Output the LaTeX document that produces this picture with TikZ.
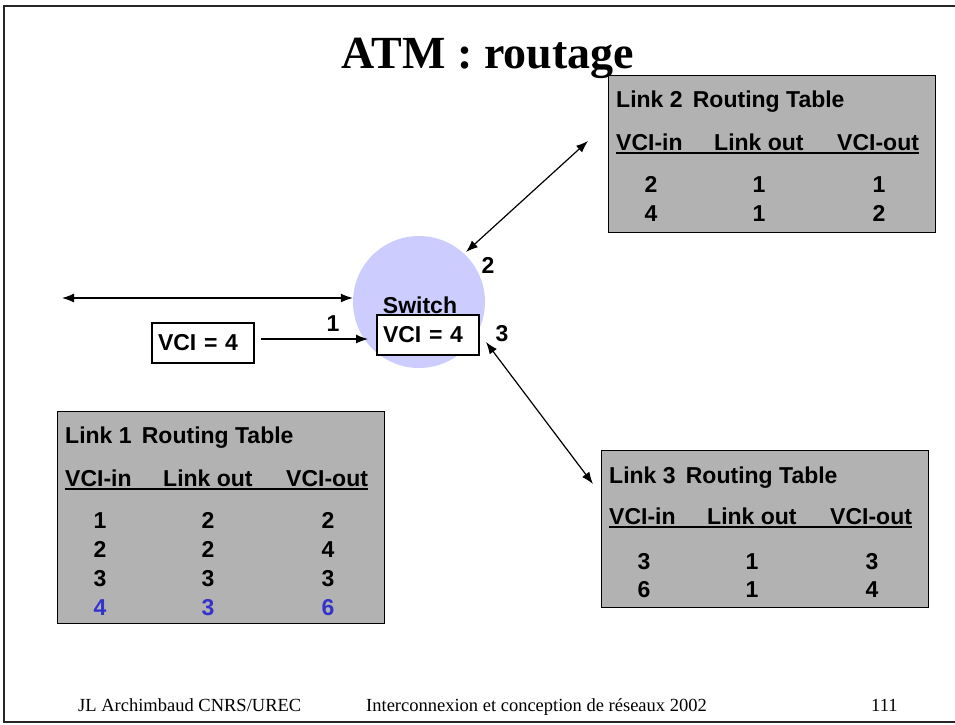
\documentclass[tikz,border=0pt]{standalone}
\usepackage{fontspec}
\setmainfont{Liberation Serif}
\setsansfont{Liberation Sans}
\usetikzlibrary{arrows.meta, positioning}
\definecolor{swfill}{HTML}{CCCCFF}
\definecolor{tblgray}{HTML}{B2B2B2}
\definecolor{rowblue}{HTML}{3333CC}
\newcommand{\tbfont}{\sffamily\bfseries\fontsize{23}{23}\selectfont}
\tikzset{
  tbl/.style  ={draw, fill=tblgray, line width=1.4pt, anchor=north west, minimum width=327pt, inner sep=0pt},
  tcap/.style ={font=\tbfont, anchor=base west, inner sep=0pt},
  cell/.style ={font=\tbfont, anchor=base, inner sep=0pt},
  vcibox/.style={draw, fill=white, line width=1.2pt, minimum height=40pt, text width=90pt, inner xsep=6pt, font=\tbfont},
  lnk/.style  ={-{Latex[length=12pt,width=9pt]}, line width=1.2pt},                 % one way
  dbl/.style  ={{Latex[length=12pt,width=9pt]}-{Latex[length=12pt,width=9pt]}, line width=1.2pt}, % both ways
  lbl/.style  ={font=\tbfont, inner sep=0pt},
  foot/.style ={font=\fontsize{18.5}{18.5}\selectfont, anchor=base west, inner sep=0pt},
}

\begin{document}
\begin{tikzpicture}[x=1pt, y=-1pt]
  \useasboundingbox (0,0) rectangle (955,724);
  % slide frame
  \draw[line width=1.6pt, black!85] (955,6) -- (4,6) -- (4,722) -- (955,722);
  \node[font=\bfseries\fontsize{46}{46}\selectfont, anchor=base, inner sep=0pt] (title) at (488,68) {ATM : routage};

  % switch
  \node[circle, fill=swfill, minimum size=132pt, inner sep=0pt] (sw) at (419,302) {};
  \node[lbl, anchor=base] (swl) at (420,313) {Switch};
  \node[vcibox] (vs) at (428,335) {VCI = 4};
  \node[vcibox] (vin) at (203,343) {VCI = 4};

  % links
  \coordinate (lft) at (62,298);
  \coordinate (p1) at (368,339);
  \coordinate (p2a) at (466,252);
  \coordinate (p2b) at (588,141);
  \coordinate (p3a) at (486,342);
  \coordinate (p3b) at (593,484);
  \draw[dbl] (lft) -- ([yshift=4pt]sw.west);
  \draw[lnk] ([yshift=4pt]vin.east) ++(6,0) -- (p1);
  \draw[dbl] (p2a) -- (p2b);
  \draw[dbl] (p3a) -- (p3b);
  \node[lbl] (n1) at (333,324) {1};
  \node[lbl] (n2) at (488,265) {2};
  \node[lbl] (n3) at (502,334) {3};

  % link 1 table
  \begin{scope}[shift={(57,411)}]
    \node[tbl, minimum height=212pt] (t1) at (0,0) {};
    \node[tcap] (t1cap) at (8,32) {Link 1\, Routing Table};
    \node[tcap] (t1a) at (8,75) {VCI-in};
    \node[tcap] (t1b) at (106,75) {Link out};
    \node[tcap] (t1c) at (229,75) {VCI-out};
    \draw[line width=1.2pt] ([yshift=-3pt]t1a.base west) -- ([yshift=-3pt]t1c.base east);
    \foreach \a/\b/\c/\col [count=\i] in {1/2/2/black, 2/2/4/black, 3/3/3/black, 4/3/6/rowblue} {
      \node[cell, text=\col] (t1-\i-a) at (43,88+29*\i) {\a};
      \node[cell, text=\col] (t1-\i-b) at (151,88+29*\i) {\b};
      \node[cell, text=\col] (t1-\i-c) at (271,88+29*\i) {\c};
    }
  \end{scope}

  % link 2 table
  \begin{scope}[shift={(608,75)}]
    \node[tbl, minimum height=157pt] (t2) at (0,0) {};
    \node[tcap] (t2cap) at (8,32) {Link 2\, Routing Table};
    \node[tcap] (t2a) at (8,75) {VCI-in};
    \node[tcap] (t2b) at (106,75) {Link out};
    \node[tcap] (t2c) at (229,75) {VCI-out};
    \draw[line width=1.2pt] ([yshift=-3pt]t2a.base west) -- ([yshift=-3pt]t2c.base east);
    \foreach \a/\b/\c [count=\i] in {2/1/1, 4/1/2} {
      \node[cell] (t2-\i-a) at (43,88+29*\i) {\a};
      \node[cell] (t2-\i-b) at (151,88+29*\i) {\b};
      \node[cell] (t2-\i-c) at (271,88+29*\i) {\c};
    }
  \end{scope}

  % link 3 table
  \begin{scope}[shift={(601,450)}]
    \node[tbl, minimum height=157pt] (t3) at (0,0) {};
    \node[tcap] (t3cap) at (8,33) {Link 3\, Routing Table};
    \node[tcap] (t3a) at (8,74) {VCI-in};
    \node[tcap] (t3b) at (106,74) {Link out};
    \node[tcap] (t3c) at (229,74) {VCI-out};
    \draw[line width=1.2pt] ([yshift=-3pt]t3a.base west) -- ([yshift=-3pt]t3c.base east);
    \foreach \a/\b/\c [count=\i] in {3/1/3, 6/1/4} {
      \node[cell] (t3-\i-a) at (43,91+28*\i) {\a};
      \node[cell] (t3-\i-b) at (151,91+28*\i) {\b};
      \node[cell] (t3-\i-c) at (271,91+28*\i) {\c};
    }
  \end{scope}

  % footer
  \node[foot] (f1) at (78,711) {JL Archimbaud CNRS/UREC};
  \node[foot] (f2) at (366,711) {Interconnexion et conception de réseaux 2002};
  \node[foot] (f3) at (871,711) {111};
\end{tikzpicture}
\end{document}
